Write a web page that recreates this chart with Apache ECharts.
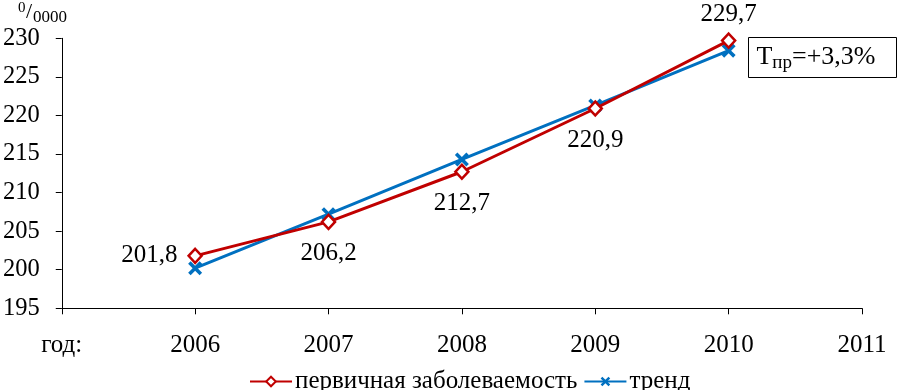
<!DOCTYPE html>
<html><head><meta charset="utf-8">
<script src="https://cdn.jsdelivr.net/npm/echarts@6/dist/echarts.min.js"></script>
<style>html,body{margin:0;padding:0;background:#fff}#c{width:900px;height:390px}</style>
</head><body><div id="c"></div>
<script>
var categories = ['год:', '2006', '2007', '2008', '2009', '2010', '2011'];
var incidence = [null, 201.8, 206.2, 212.7, 220.9, 229.7, null];
var trend = [null, 200.2, 207.2, 214.3, 221.3, 228.4, null];
var labelPositions = [null, 'left', 'bottom', 'bottom', 'bottom', 'top', null];
var seriesNames = ['первичная заболеваемость', 'тренд'];
var yTicks = {min: 195, max: 230, interval: 5};
var FONT = '"Liberation Serif", "Times New Roman", serif';
var RED = '#C00000', BLUE = '#0070C0';
var xPath = 'path://M0,1.8L1.8,0L5,3.2L8.2,0L10,1.8L6.8,5L10,8.2L8.2,10L5,6.8L1.8,10L0,8.2L3.2,5Z';

var incData = incidence.map(function (v, i) {
  if (v === null) return null;
  var pos = labelPositions[i];
  var dist = pos === 'left' ? 10 : (pos === 'top' ? 5 : 11);
  return {value: v, label: {position: pos, distance: dist}};
});

var chart = echarts.init(document.getElementById('c'), null, {renderer: 'canvas'});
chart.setOption({
  animation: false,
  grid: {left: 60, right: 38, top: 38.3, bottom: 81.7, containLabel: false},
  xAxis: {
    type: 'category', data: categories, boundaryGap: false,
    axisLine: {lineStyle: {color: '#000', width: 1}},
    axisTick: {show: true, length: 6, inside: false, lineStyle: {color: '#000'}, alignWithLabel: true},
    axisLabel: {color: '#000', fontFamily: FONT, fontSize: 25, margin: 25, interval: 0}
  },
  yAxis: {
    type: 'value', min: yTicks.min, max: yTicks.max, interval: yTicks.interval,
    splitLine: {show: false},
    axisLine: {show: true, lineStyle: {color: '#000', width: 1}},
    axisTick: {show: true, length: 6, lineStyle: {color: '#000'}},
    axisLabel: {color: '#000', fontFamily: FONT, fontSize: 24.5, margin: 22}
  },
  legend: {
    top: 364, left: 244, itemWidth: 42, itemHeight: 12, itemGap: 6,
    textStyle: {color: '#000', fontFamily: FONT, fontSize: 25, padding: [0, 0, 0, -2]},
    data: seriesNames
  },
  series: [
    {
      name: seriesNames[0], type: 'line', data: incData,
      symbol: 'diamond', symbolSize: [13, 14], showAllSymbol: true,
      lineStyle: {color: RED, width: 3},
      itemStyle: {color: '#fff', borderColor: RED, borderWidth: 2.5},
      label: {show: true, color: '#000', fontFamily: FONT, fontSize: 25,
        formatter: function (p) { return String(p.value).replace('.', ','); }},
      z: 3
    },
    {
      name: seriesNames[1], type: 'line', data: trend,
      symbol: xPath, symbolSize: 14, showAllSymbol: true,
      lineStyle: {color: BLUE, width: 3},
      itemStyle: {color: BLUE, borderWidth: 0},
      z: 2
    }
  ],
  graphic: [
    {type: 'text', left: 18, top: 1, style: {text: '0', font: '15px ' + FONT, fill: '#000'}},
    {type: 'text', left: 26, top: 1, style: {text: '/', font: '22px ' + FONT, fill: '#000'}},
    {type: 'text', left: 33, top: 9, style: {text: '0000', font: '17px ' + FONT, fill: '#000'}},
    {type: 'rect', shape: {x: 748.5, y: 37.5, width: 148, height: 40}, style: {fill: '#fff', stroke: '#000', lineWidth: 1}},
    {type: 'text', x: 816, y: 57,
      style: {
        text: '{m|Т}{s|пр}{m|=+3,3%}', align: 'center', verticalAlign: 'middle',
        rich: {
          m: {fontFamily: FONT, fontSize: 26, color: '#000', lineHeight: 30, verticalAlign: 'middle'},
          s: {fontFamily: FONT, fontSize: 19, color: '#000', lineHeight: 32, verticalAlign: 'bottom'}
        }
      }}
  ]
});
</script></body></html>
